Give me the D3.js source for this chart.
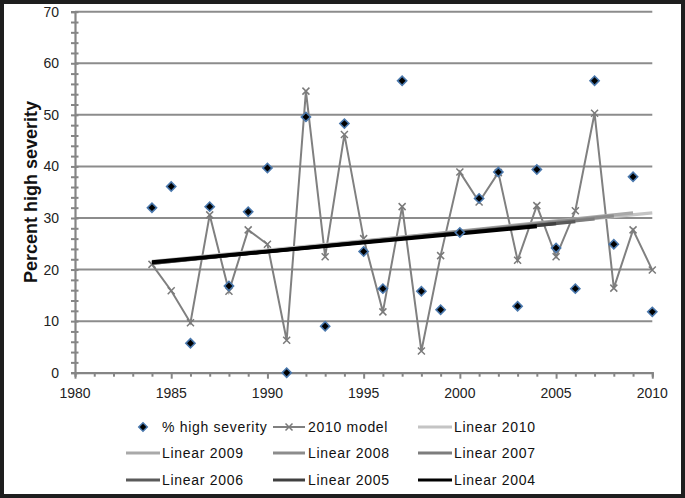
<!DOCTYPE html>
<html><head><meta charset="utf-8">
<script src="https://cdn.jsdelivr.net/npm/d3@7"></script>
<style>
html,body{margin:0;padding:0;background:#fff;}
svg{display:block;}
text{font-family:"Liberation Sans",Arial,sans-serif;}
</style></head>
<body>
<svg id="chart" width="685" height="498"></svg>
<script>
// ---- data ----
const years = [1984,1985,1986,1987,1988,1989,1990,1991,1992,1993,1994,1995,1996,1997,1998,1999,2000,2001,2002,2003,2004,2005,2006,2007,2008,2009,2010];
const highSeverity = [32.0,36.1,5.7,32.2,16.8,31.2,39.7,0.0,49.6,9.0,48.3,23.5,16.3,56.6,15.8,12.2,27.2,33.8,38.9,12.9,39.4,24.2,16.3,56.6,24.9,38.0,11.8];
const model2010 = [21.0,15.9,9.7,30.6,15.8,27.7,24.9,6.3,54.6,22.5,46.2,26.0,11.8,32.2,4.2,22.7,38.9,33.1,38.8,21.8,32.4,22.5,31.4,50.3,16.4,27.7,19.9];
const trendNames = ["Linear 2010","Linear 2009","Linear 2008","Linear 2007","Linear 2006","Linear 2005","Linear 2004"];
const trendEndYears = [2010,2009,2008,2007,2006,2005,2004];
const trendStart = [21.6,21.2,21.2,21.2,21.3,21.3,21.4];
const trendEnd = [31.0,31.0,30.4,29.8,29.3,28.9,28.4];
const trendColors = ["#c4c4c4","#a9a9a9","#8c8c8c","#7d7d7d","#5a5a5a","#404040","#000000"];
const yTicks = [0,10,20,30,40,50,60,70];
const xTicks = [1980,1985,1990,1995,2000,2005,2010];
const yLabel = "Percent high severity";

// ---- layout ----
const svg = d3.select("#chart");
const x = d3.scaleLinear().domain([1980,2010]).range([75,652.3]);
const y = d3.scaleLinear().domain([0,70]).range([372.7,11.7]);

// frame
svg.append("rect").attr("x",2).attr("y",2).attr("width",681).attr("height",494)
  .attr("fill","#fff").attr("stroke","#1e1e1e").attr("stroke-width",4);

// gridlines
svg.append("g").selectAll("line").data(yTicks.filter(d=>d>0)).join("line")
  .attr("x1",x(1980)).attr("x2",x(2010)).attr("y1",d=>y(d)).attr("y2",d=>y(d))
  .attr("stroke","#8c8c8c").attr("stroke-width",2);

// y axis: minor ticks every 2, labels every 10
const yAxis = svg.append("g").attr("transform",`translate(${x(1980)},0)`)
  .call(d3.axisLeft(y).tickValues(d3.range(0,71,2)).tickSize(4).tickFormat(""));
yAxis.select(".domain").attr("stroke","#858585").attr("stroke-width",2.2);
yAxis.selectAll(".tick line").attr("stroke","#858585").attr("stroke-width",2).attr("x2",-4).attr("x1",3.5);
svg.append("g").selectAll("text").data(yTicks).join("text")
  .attr("x",x(1980)-16).attr("y",d=>y(d)).attr("dy","0.36em")
  .attr("text-anchor","end").attr("font-size",14).attr("fill","#222").text(d=>d);

// x axis
const xAxis = svg.append("g").attr("transform",`translate(0,${y(0)})`)
  .call(d3.axisBottom(x).tickValues(d3.range(1980,2011,1)).tickSize(4).tickFormat(""));
xAxis.select(".domain").attr("stroke","#858585").attr("stroke-width",2.2);
xAxis.selectAll(".tick line").attr("stroke","#858585").attr("stroke-width",2)
  .attr("y2",d=>d%5===0?6:4);
svg.append("g").selectAll("text").data(xTicks).join("text")
  .attr("x",d=>x(d)).attr("y",y(0)+20).attr("dy","0.36em")
  .attr("text-anchor","middle").attr("font-size",14).attr("fill","#222").text(d=>d);

// y title
svg.append("text").attr("transform",`translate(37,192) rotate(-90)`)
  .attr("text-anchor","middle").attr("font-size",18).attr("font-weight","bold").attr("fill","#111")
  .text(yLabel);

// model line
const line = d3.line().x((d,i)=>x(years[i])).y(d=>y(d));
svg.append("path").datum(model2010).attr("d",line).attr("fill","none")
  .attr("stroke","#808080").attr("stroke-width",2);
const xm = 3.5;
const markG = svg.append("g");
model2010.forEach((v,i)=>{
  const cx=x(years[i]), cy=y(v);
  markG.append("path").attr("d",`M${cx-xm},${cy-xm}L${cx+xm},${cy+xm}M${cx-xm},${cy+xm}L${cx+xm},${cy-xm}`)
    .attr("stroke","#7a7a7a").attr("stroke-width",1.5);
});

// trend lines
svg.append("g").selectAll("line").data(trendNames).join("line")
  .attr("x1",x(1984)).attr("x2",(d,i)=>x(trendEndYears[i]))
  .attr("y1",(d,i)=>y(trendStart[i])).attr("y2",(d,i)=>y(trendEnd[i]))
  .attr("stroke",(d,i)=>trendColors[i]).attr("stroke-width",(d,i)=>i===6?4:3.2);

// diamonds
svg.append("g").selectAll("path").data(highSeverity).join("path")
  .attr("transform",(d,i)=>`translate(${x(years[i])},${y(d)}) rotate(45)`)
  .attr("d",d3.symbol().type(d3.symbolSquare).size(42))
  .attr("fill","#000").attr("stroke","#4a78ad").attr("stroke-width",1.6);

// legend
const lg = svg.append("g").attr("font-size",14).attr("fill","#111").attr("letter-spacing","0.7px");
const rowsY = [427,453,480];
const colLine = [[126,160],[273,305],[418,452]];
const colText = [162,308,454];
// item 1: diamond
lg.append("path").attr("transform",`translate(143,${rowsY[0]}) rotate(45)`)
  .attr("d",d3.symbol().type(d3.symbolSquare).size(36))
  .attr("fill","#000").attr("stroke","#4a78ad").attr("stroke-width",1.5);
lg.append("text").attr("x",colText[0]).attr("y",rowsY[0]).attr("dy","0.36em").text("% high severity");
// item 2: model
lg.append("line").attr("x1",colLine[1][0]).attr("x2",colLine[1][1]).attr("y1",rowsY[0]).attr("y2",rowsY[0])
  .attr("stroke","#808080").attr("stroke-width",2);
const mx=(colLine[1][0]+colLine[1][1])/2, my=rowsY[0];
lg.append("path").attr("d",`M${mx-xm},${my-xm}L${mx+xm},${my+xm}M${mx-xm},${my+xm}L${mx+xm},${my-xm}`)
  .attr("stroke","#7a7a7a").attr("stroke-width",1.5);
lg.append("text").attr("x",colText[1]).attr("y",rowsY[0]).attr("dy","0.36em").text("2010 model");
// trend items
trendNames.forEach((n,i)=>{
  const slot=i+2, r=Math.floor(slot/3), c=slot%3;
  lg.append("line").attr("x1",colLine[c][0]).attr("x2",colLine[c][1]).attr("y1",rowsY[r]).attr("y2",rowsY[r])
    .attr("stroke",trendColors[i]).attr("stroke-width",3);
  lg.append("text").attr("x",colText[c]).attr("y",rowsY[r]).attr("dy","0.36em").text(n);
});
</script>
</body></html>
